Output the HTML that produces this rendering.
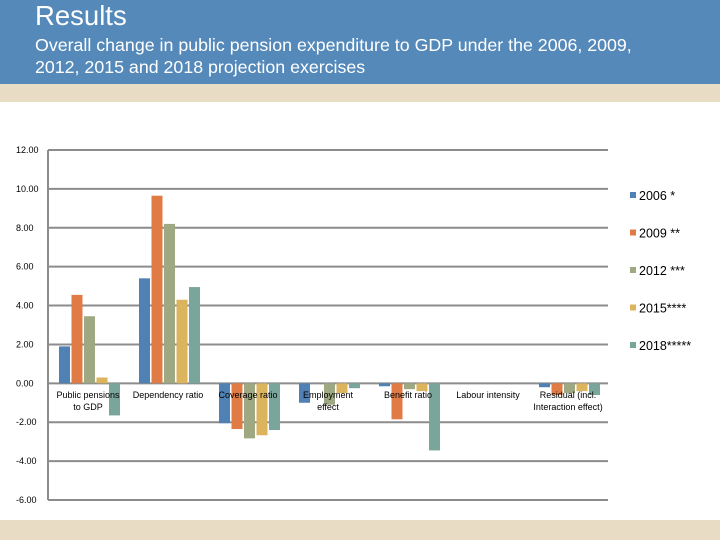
<!DOCTYPE html>
<html><head><meta charset="utf-8"><style>
body{margin:0;width:720px;height:540px;overflow:hidden;background:#fff;font-family:"Liberation Sans",sans-serif;position:relative}
#hdr{position:absolute;left:0;top:0;width:720px;height:84px;background:#5589b9}
#band{position:absolute;left:0;top:84px;width:720px;height:18px;background:#e8dcc4}
#foot{position:absolute;left:0;top:520px;width:720px;height:20px;background:#e8dcc4}
#title{position:absolute;left:35px;top:0px;color:#fff;font-size:27.5px}
#sub{position:absolute;left:35px;top:34px;color:#fff;font-size:17.8px;line-height:22px}
svg{position:absolute;left:0;top:0}
</style></head><body>
<div id="hdr"></div>
<div id="band"></div>
<div id="foot"></div>
<div id="title">Results</div>
<div id="sub">Overall change in public pension expenditure to GDP under the 2006, 2009,<br>2012, 2015 and 2018 projection exercises</div>
<svg id="chart" width="720" height="540"></svg>
<script>
const categories=[["Public pensions","to GDP"],["Dependency ratio"],["Coverage ratio"],["Employment","effect"],["Benefit ratio"],["Labour intensity"],["Residual (incl.","Interaction effect)"]];
const seriesNames=["2006 *","2009 **","2012 ***","2015****","2018*****"];
const s2006=[1.9,5.4,-2.05,-1.0,-0.15,0,-0.2];
const s2009=[4.55,9.65,-2.35,0,-1.85,0,-0.6];
const s2012=[3.45,8.2,-2.83,-1.1,-0.3,0,-0.5];
const s2015=[0.3,4.3,-2.67,-0.5,-0.4,0,-0.4];
const s2018=[-1.65,4.95,-2.4,-0.25,-3.45,0,-0.6];
const yTicks=[12,10,8,6,4,2,0,-2,-4,-6];
const colors=["#4f81b4","#e07b45","#9ea882","#dcb45e","#79a59b"];
const series=[s2006,s2009,s2012,s2015,s2018];
const svg=document.getElementById('chart');const NS="http://www.w3.org/2000/svg";
const x0=48,x1=608,yTop=150,yBot=500,yMax=12,yMin=-6;
const y=v=>yTop+(yMax-v)/(yMax-yMin)*(yBot-yTop);
const cw=(x1-x0)/categories.length;
function mk(t,a){const e=document.createElementNS(NS,t);for(const k in a)e.setAttribute(k,a[k]);svg.appendChild(e);return e;}
yTicks.forEach(t=>{
 const l=mk('line',{x1:x0,x2:x1,y1:y(t),y2:y(t),stroke:'#8c8c8c','stroke-width':2});
 
 
 const tx=mk('text',{x:16,y:y(t)+3,'font-size':9,fill:'#000'});tx.textContent=t.toFixed(2);
 
 
});
const ax=mk('line',{x1:x0,x2:x0,y1:yTop,y2:yBot,stroke:'#8c8c8c','stroke-width':2});


series.forEach((s,si)=>{
 s.forEach((v,ci)=>{
  const bx=x0+ci*cw+11+si*12.5;
  const r=mk('rect',{x:bx,y:Math.min(y(v),y(0)),width:11,height:Math.abs(y(v)-y(0)),fill:colors[si]});
  
  
 });
});
categories.forEach((c,ci)=>{
 c.forEach((ln,li)=>{
  const t=mk('text',{x:x0+ci*cw+cw/2,y:398+li*12,'font-size':9,'text-anchor':'middle',fill:'#000'});t.textContent=ln;
  
  
 });
});
seriesNames.forEach((n,i)=>{
 const ly=196+i*37.5;
 const r=mk('rect',{x:630,y:ly-4,width:6,height:6,fill:colors[i]});
 
 
 const t=mk('text',{x:639,y:ly+4,'font-size':12.5,fill:'#000'});t.textContent=n;
 
 
});
</script>
</body></html>
